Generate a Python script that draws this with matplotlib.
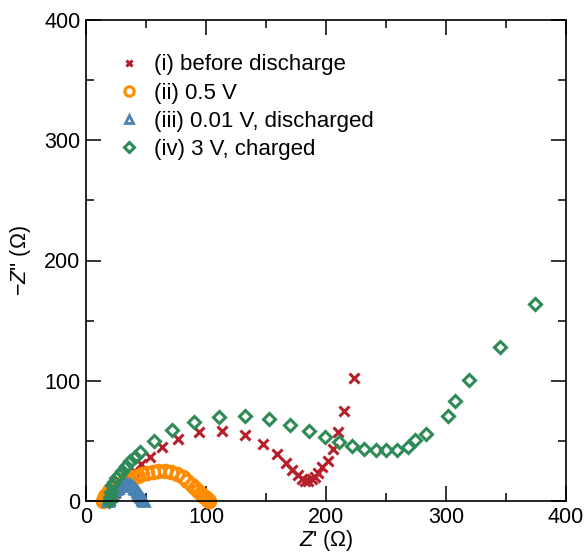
import matplotlib
matplotlib.use("Agg")
import matplotlib.pyplot as plt
from matplotlib.ticker import MultipleLocator

plt.rcParams['font.family'] = ['Liberation Sans', 'DejaVu Sans']
plt.rcParams['mathtext.fontset'] = 'custom'
plt.rcParams['mathtext.rm'] = 'Liberation Sans'
plt.rcParams['mathtext.it'] = 'Liberation Sans:italic'

# (i) before discharge
red_x = [20, 22, 24, 27, 30, 33, 36.7, 40, 45.8, 53.3, 63, 76.4, 94, 113.6, 132.5, 147.8,
         159.4, 167, 172, 176.4, 179.7, 182.5, 185.3, 188, 190.8, 193.6, 197, 201.4, 205.6,
         210, 215, 223]
red_y = [0, 3, 7, 11, 15, 18.5, 21.5, 25, 30.5, 37, 44.6, 51.5, 57, 58.5, 55, 47.5,
         39, 31.3, 25.8, 21.6, 18.3, 17, 17, 18, 20.2, 23, 28, 33.5, 43,
         57.6, 75, 102]

# (ii) 0.5 V
orange_x = [14, 15, 16, 17.5, 19, 21, 23, 25.5, 28, 31, 34, 37, 40, 43.5, 47, 51, 55.5, 60,
            65.5, 71, 76, 80.5, 84.5, 88, 91, 93.5, 95.5, 97.5, 99, 100.5, 101.5, 102.5]
orange_y = [0, 2, 4, 6, 8, 9.5, 11, 12.5, 14, 15.5, 17, 18.5, 20, 21, 22.5, 23.5, 24.5, 25,
            25, 24, 22.5, 20, 17, 13.5, 10.5, 8, 6, 4.5, 3, 2, 1, 0.3]

# (iii) 0.01 V, discharged
blue_x = [18, 18.5, 19.5, 20.5, 21.5, 22.5, 23.5, 25, 26.5, 28, 29.5, 31, 32.5, 34, 35.5,
          37, 38.5, 40, 41.2, 42.3, 43.3, 44.2, 45, 45.8, 46.5, 47.2, 47.8, 48.3]
blue_y = [0, 1.5, 3, 4.5, 6, 7.5, 8.8, 10, 11.2, 12.2, 13, 13.5, 13.8, 13.8, 13.5,
          13, 12.2, 11, 9.8, 8.5, 7, 5.5, 4.2, 3, 2, 1.2, 0.5, 0]

# (iv) 3 V, charged
green_x = [19.5, 19.8, 20.5, 21.4, 23, 25, 27.5, 30, 33, 37, 41, 45, 56.7, 72, 90, 111,
           132.5, 152.5, 170, 186, 199, 211, 221.7, 232, 242, 250, 259, 268, 274, 283,
           302, 307.5, 319, 345, 374]
green_y = [0, 3.5, 7.5, 13, 16, 19, 22, 25, 29, 33, 37, 41, 50, 59, 66, 70,
           70.5, 68, 63, 58.5, 53.5, 49.3, 46, 43.5, 42, 42, 42, 45, 50.7, 55.7,
           70.7, 83.4, 100.6, 128, 164]

labels = ["(i) before discharge", "(ii) 0.5 V", "(iii) 0.01 V, discharged", "(iv) 3 V, charged"]

fig = plt.figure(figsize=(5.87, 5.54), dpi=100)
ax = fig.add_axes([86/587, 1-501/554, 480/587, 481/554])

ax.plot(red_x, red_y, linestyle='none', marker='x', ms=6.5, mew=2.2, color='#b5202a',
        label=labels[0], clip_on=False)
ax.plot(orange_x, orange_y, linestyle='none', marker='o', ms=9, mew=2.2, mfc='none',
        color='#ff8c00', label=labels[1], clip_on=False)
ax.plot(blue_x, blue_y, linestyle='none', marker='^', ms=7, mew=2, mfc='none',
        color='#4a82b4', label=labels[2], clip_on=False)
ax.plot(green_x, green_y, linestyle='none', marker='D', ms=6.5, mew=2.2, mfc='none',
        color='#2e8b57', label=labels[3], clip_on=False)

ax.set_xlim(0, 400)
ax.set_ylim(0, 400)
ax.xaxis.set_major_locator(MultipleLocator(100))
ax.xaxis.set_minor_locator(MultipleLocator(50))
ax.yaxis.set_major_locator(MultipleLocator(100))
ax.yaxis.set_minor_locator(MultipleLocator(50))
ax.tick_params(which='both', direction='in', top=True, right=True, width=1.1,
               labelsize=15.5, pad=4)
ax.tick_params(which='major', length=11)
ax.tick_params(which='minor', length=5.5)
for s in ax.spines.values():
    s.set_linewidth(1.2)

ax.set_xlabel("$Z$' (Ω)", fontsize=15.5, labelpad=0)
ax.set_ylabel("−$Z$'' (Ω)", fontsize=15.5, labelpad=8)

ax.legend(loc='upper left', bbox_to_anchor=(0.02, 0.97), frameon=False, fontsize=16,
          handletextpad=0.55, labelspacing=0.32, handlelength=1.2, markerscale=0.75)

fig.savefig("out.png", dpi=100)
